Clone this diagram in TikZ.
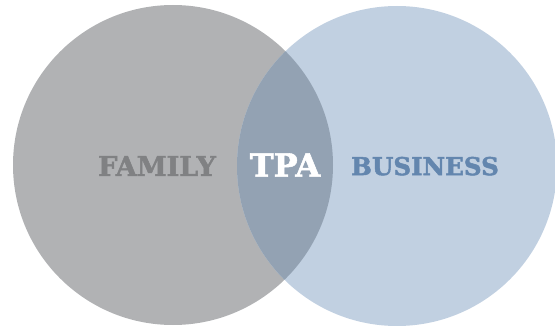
\documentclass[tikz,border=0pt]{standalone}
\usepackage{fontspec}
\setmainfont{DejaVu Serif}[BoldFeatures={FakeBold=1.8}]
\definecolor{famgray}{HTML}{B1B2B4}
\definecolor{busblue}{HTML}{C1D0E1}
\definecolor{lensblue}{HTML}{93A2B3}
\definecolor{famtext}{HTML}{808183}
\definecolor{bustext}{HTML}{6386AE}
\begin{document}
\begin{tikzpicture}[x=1pt,y=-1pt,
  lbl/.style={inner sep=0pt, text depth=0pt}]
\useasboundingbox (0,0) rectangle (555,326);
\clip (0,0) rectangle (555,326);
\fill[famgray] (173,165) circle (160);
\fill[busblue] (397,166) circle (160);
\begin{scope}
  \clip (173,165) circle (160);
  \fill[lensblue] (397,166) circle (160);
\end{scope}
\node[lbl, text=famtext, font=\bfseries\fontsize{27}{27}\selectfont] (family) at (157,166) {FAMILY};
\node[lbl, text=white, font=\bfseries\fontsize{32}{32}\selectfont] (tpa) at (285,165) {TPA};
\node[lbl, text=bustext, font=\bfseries\fontsize{24.6}{24.6}\selectfont] (business) at (425,166) {BUSINESS};
\end{tikzpicture}
\end{document}
